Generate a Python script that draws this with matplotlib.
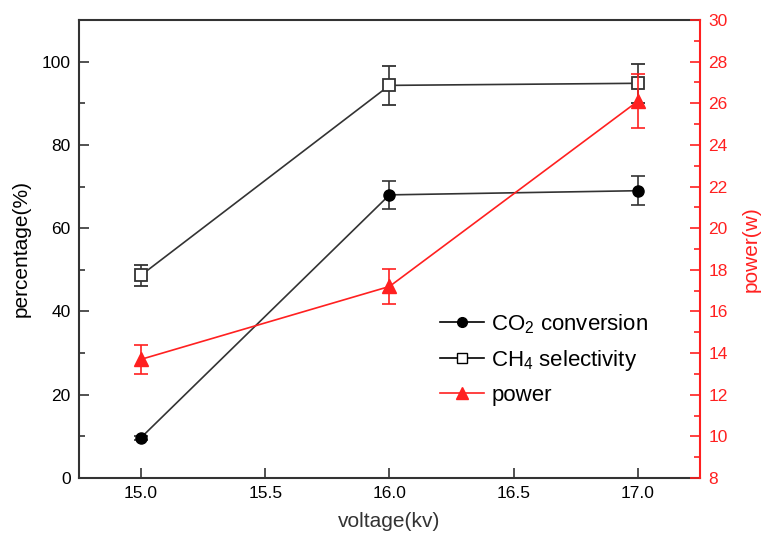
import matplotlib
matplotlib.use("Agg")
import matplotlib.pyplot as plt
from matplotlib.ticker import MultipleLocator
from matplotlib.lines import Line2D

plt.rcParams['font.family'] = ['Liberation Sans', 'DejaVu Sans']
plt.rcParams['mathtext.default'] = 'regular'

voltage = [15.0, 16.0, 17.0]
co2_conv = [9.7, 68.0, 69.0]
co2_err = [0.5, 3.3, 3.5]
ch4_sel = [48.7, 94.3, 94.8]
ch4_err = [2.5, 4.7, 4.7]
power = [13.7, 17.2, 26.1]
power_err = [0.7, 0.85, 1.3]

dark = '#333333'
red = '#ff2020'

fig = plt.figure(figsize=(7.63, 5.41), dpi=100)
ax = fig.add_axes([0.1035, 0.1165, 0.8139, 0.8465])
ax2 = ax.twinx()

ax.errorbar(voltage, co2_conv, yerr=co2_err, color=dark, lw=1.2, marker='o', ms=8,
            mfc='black', mec='black', capsize=5, elinewidth=1.2, capthick=1.2)
ax.errorbar(voltage, ch4_sel, yerr=ch4_err, color=dark, lw=1.2, marker='s', ms=8,
            mfc='white', mec=dark, mew=1.3, capsize=5, elinewidth=1.2, capthick=1.2)
ax2.errorbar(voltage, power, yerr=power_err, color=red, lw=1.2, marker='^', ms=10,
             mfc=red, mec=red, capsize=5, elinewidth=1.2, capthick=1.2)

ax.set_xlim(14.75, 17.25)
ax.set_ylim(0, 110)
ax2.set_ylim(8, 30)

ax.set_xticks([15.0, 15.5, 16.0, 16.5, 17.0])
ax.set_xticklabels(['15.0', '15.5', '16.0', '16.5', '17.0'])
ax.set_yticks([0, 20, 40, 60, 80, 100])
ax.yaxis.set_minor_locator(MultipleLocator(10))
ax2.set_yticks(range(8, 31, 2))
ax2.yaxis.set_minor_locator(MultipleLocator(1))

ax.tick_params(axis='both', which='major', direction='in', length=7, width=1.2,
               colors=dark, labelcolor='black', labelsize=12.5, pad=6)
ax.tick_params(axis='y', which='minor', direction='in', length=4, width=1.2, colors=dark)
ax2.tick_params(axis='y', which='major', direction='in', length=7, width=1.2,
                colors=red, labelcolor=red, labelsize=12.5, pad=6)
ax2.tick_params(axis='y', which='minor', direction='in', length=4, width=1.2, colors=red)

for s in ['left', 'bottom', 'top']:
    ax.spines[s].set_color(dark)
    ax.spines[s].set_linewidth(1.5)
ax2.spines['right'].set_color(red)
ax2.spines['right'].set_linewidth(1.5)
for s in ['left', 'bottom', 'top']:
    ax2.spines[s].set_visible(False)
ax.spines['right'].set_visible(False)

ax.set_xlabel('voltage(kv)', fontsize=15, color=dark, labelpad=8)
ax.set_ylabel('percentage(%)', fontsize=15, color='black', labelpad=8)
ax2.set_ylabel('power(w)', fontsize=15, color=red, labelpad=10)

handles = [
    Line2D([], [], color='black', lw=1.2, marker='o', ms=7, mfc='black', mec='black'),
    Line2D([], [], color='black', lw=1.2, marker='s', ms=7, mfc='white', mec='black'),
    Line2D([], [], color=red, lw=1.2, marker='^', ms=8, mfc=red, mec=red),
]
labels = ['CO$_2$ conversion', 'CH$_4$ selectivity', 'power']
ax2.legend(handles, labels, loc='upper left', bbox_to_anchor=(0.567, 0.382),
           frameon=False, fontsize=16, handlelength=2.0, handletextpad=0.3,
           labelspacing=0.55, borderaxespad=0)

fig.savefig('out.png', dpi=100)
